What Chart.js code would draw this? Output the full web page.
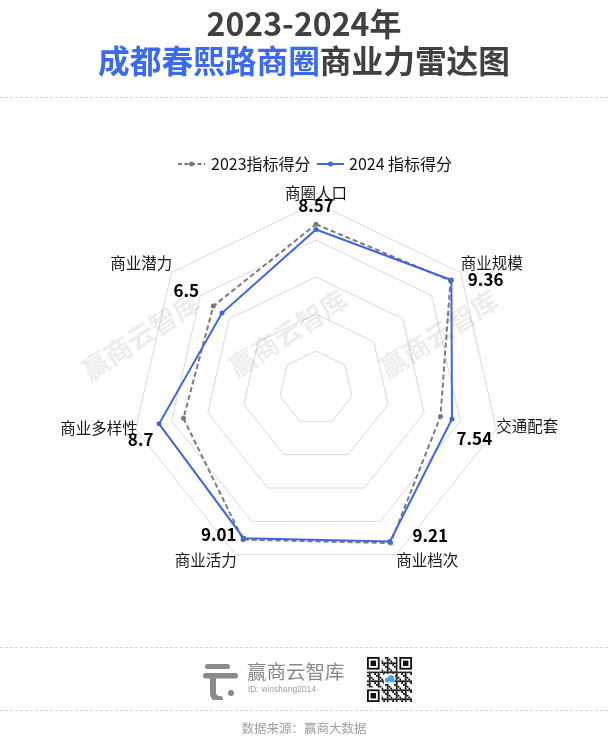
<!DOCTYPE html>
<html><head><meta charset="utf-8">
<script src="https://cdn.jsdelivr.net/npm/chart.js@4"></script>
<style>
html,body{margin:0;padding:0;background:#fff;}
body{width:608px;height:747px;position:relative;overflow:hidden;font-family:"Noto Sans CJK SC","Noto Sans",sans-serif;}
#c{position:absolute;left:0;top:0;}
.ttl{position:absolute;left:0;width:608px;text-align:center;font-weight:700;color:#404040;line-height:1;white-space:nowrap;}
.ttl .b{color:#3a6bee;}
.sep{position:absolute;left:0;width:608px;height:0;border-top:1px dashed #d4d4d4;}
.lg{position:absolute;font-size:16px;color:#111;line-height:1;white-space:nowrap;}
.wm{position:absolute;font-size:27px;font-weight:700;color:rgba(0,0,0,0.075);white-space:nowrap;transform:translate(-50%,-50%) rotate(-33deg);line-height:1;}
.src{position:absolute;left:0;width:608px;text-align:center;font-size:12.5px;color:#a0a0a0;line-height:1;}
</style></head>
<body>
<canvas id="c" width="608" height="747"></canvas>
<div class="ttl" style="top:6px;font-size:32px;">2023-2024年</div>
<div class="ttl" style="top:44px;font-size:31.7px;"><span class="b">成都春熙路商圈</span>商业力雷达图</div>
<div class="sep" style="top:97px;"></div>

<svg style="position:absolute;left:178px;top:159px;" width="27" height="10">
 <line x1="0" y1="5" x2="27" y2="5" stroke="#7a7a7a" stroke-width="2" stroke-dasharray="4,2.5"/>
 <circle cx="13.5" cy="5" r="2.5" fill="#7a7a7a"/>
</svg>
<div class="lg" id="lg1" style="left:211px;top:155px;"></div>
<svg style="position:absolute;left:317px;top:159px;" width="27" height="10">
 <line x1="0" y1="5" x2="27" y2="5" stroke="#3f66dd" stroke-width="2"/>
 <circle cx="13.5" cy="5" r="2.5" fill="#3f66dd"/>
</svg>
<div class="lg" id="lg2" style="left:349px;top:155px;"></div>

<div class="wm" style="left:140px;top:335px;">赢商云智库</div>
<div class="wm" style="left:287px;top:332px;">赢商云智库</div>
<div class="wm" style="left:438px;top:333px;">赢商云智库</div>

<div class="sep" style="top:647px;"></div>
<svg style="position:absolute;left:200px;top:660px;" width="40" height="40">
 <rect x="5" y="4" width="25" height="5" rx="2.5" fill="#8a8a8a"/>
 <rect x="3" y="13" width="35" height="5.5" rx="2.7" fill="#8a8a8a"/>
 <path d="M13,17 L13,32 Q13,39 20,39" stroke="#8a8a8a" stroke-width="6" fill="none" stroke-linecap="round"/>
 <circle cx="31" cy="33" r="3" fill="#8a8a8a"/>
</svg>
<div style="position:absolute;left:247px;top:661px;font-size:19.5px;color:#8a8a8a;line-height:1;white-space:nowrap;">赢商云智库</div>
<div style="position:absolute;left:248px;top:685px;font-size:8.5px;color:#a0a0a0;line-height:1;white-space:nowrap;font-family:'Liberation Sans',sans-serif;">ID: winshang2014</div>
<canvas id="qr" width="45" height="45" style="position:absolute;left:367px;top:657px;"></canvas>
<div class="sep" style="top:710px;"></div>
<div class="src" style="top:722px;">数据来源：赢商大数据</div>

<script>
// ---- data ----
const categories = ['商圈人口', '商业规模', '交通配套', '商业档次', '商业活力', '商业多样性', '商业潜力'];
const scores2023 = [8.85, 9.3, 6.9, 9.3, 9.1, 7.35, 7.1];
const scores2024 = [8.57, 9.36, 7.54, 9.21, 9.01, 8.7, 6.5];
const seriesLabels = ['2023指标得分', '2024 指标得分'];
const scaleMin = 0, scaleMax = 10, scaleStep = 2;

document.getElementById('lg1').textContent = seriesLabels[0];
document.getElementById('lg2').textContent = seriesLabels[1];

// label placement (offsets relative to the outer ring vertex)
const catPos = [
  {a:'center', dx:0, dy:-10},
  {a:'left', dx:0, dy:-10},
  {a:'left', dx:0, dy:-3},
  {a:'left', dx:0, dy:5},
  {a:'right', dx:1, dy:5},
  {a:'right', dx:2, dy:-1},
  {a:'right', dx:1, dy:-10}
];
const valPos = [
  {dx:0, dy:3}, {dx:25, dy:7}, {dx:-22, dy:9}, {dx:34, dy:-19},
  {dx:-17, dy:-20}, {dx:5, dy:10}, {dx:15, dy:18}
];

const labelPlugin = {
  id: 'radarLabels',
  afterDatasetsDraw(chart) {
    const s = chart.scales.r, ctx = chart.ctx;
    const outer = s.getDistanceFromCenterForValue(s.max);
    ctx.save();
    ctx.textBaseline = 'middle';
    categories.forEach((c, i) => {
      const p = s.getPointPosition(i, outer);
      const L = catPos[i];
      ctx.font = '15.5px "Noto Sans CJK SC"';
      ctx.fillStyle = '#1a1a1a';
      ctx.textAlign = L.a;
      ctx.fillText(c, p.x + L.dx, p.y + L.dy);
      const V = valPos[i];
      ctx.font = 'bold 17px "Noto Sans CJK SC"';
      ctx.fillStyle = '#000';
      ctx.textAlign = 'center';
      ctx.fillText(String(scores2024[i]), p.x + V.dx, p.y + V.dy);
    });
    ctx.restore();
  }
};

new Chart(document.getElementById('c'), {
  type: 'radar',
  data: {
    labels: categories,
    datasets: [
      {label: seriesLabels[0], data: scores2023, order: 1, borderColor: '#7a7a7a', borderWidth: 2, borderDash: [5, 3],
       pointRadius: 2.5, pointBackgroundColor: '#7a7a7a', pointBorderColor: '#7a7a7a', pointBorderWidth: 0, fill: false, backgroundColor: 'rgba(0,0,0,0)'},
      {label: seriesLabels[1], data: scores2024, order: 0, borderColor: '#3f66dd', borderWidth: 2,
       pointRadius: 2.5, pointBackgroundColor: '#3f66dd', pointBorderColor: '#3f66dd', pointBorderWidth: 0, fill: false, backgroundColor: 'rgba(0,0,0,0)'}
    ]
  },
  options: {
    responsive: false,
    animation: false,
    layout: {padding: {left: 131, right: 106, top: 202.5, bottom: 173.5}},
    plugins: {legend: {display: false}, tooltip: {enabled: false}},
    elements: {line: {tension: 0}},
    scales: {
      r: {
        min: scaleMin, max: scaleMax,
        ticks: {display: false, stepSize: scaleStep},
        grid: {color: '#d9d9d9', lineWidth: 1},
        angleLines: {display: false},
        pointLabels: {display: false}
      }
    }
  },
  plugins: [labelPlugin]
});

// decorative QR-like code
(function(){
  const q = document.getElementById('qr').getContext('2d');
  const n = 25, m = 45 / n;
  q.fillStyle = '#fff'; q.fillRect(0,0,45,45);
  q.fillStyle = '#111';
  for (let i = 0; i < n; i++) for (let j = 0; j < n; j++) {
    if (((i * 7 + j * 11 + i * j * 3) % 5) < 2) q.fillRect(j * m, i * m, m, m);
  }
  function finder(x, y) {
    q.fillStyle = '#fff'; q.fillRect(x * m - m, y * m - m, 9 * m, 9 * m);
    q.fillStyle = '#111'; q.fillRect(x * m, y * m, 7 * m, 7 * m);
    q.fillStyle = '#fff'; q.fillRect((x + 1) * m, (y + 1) * m, 5 * m, 5 * m);
    q.fillStyle = '#111'; q.fillRect((x + 2) * m, (y + 2) * m, 3 * m, 3 * m);
  }
  finder(0, 0); finder(18, 0); finder(0, 18);
  q.fillStyle = '#fff'; q.fillRect(17, 17, 11, 10);
  q.fillStyle = '#4aa3e0';
  q.beginPath(); q.arc(20.5, 23, 2.5, 0, Math.PI * 2); q.arc(24, 21.5, 3.2, 0, Math.PI * 2); q.arc(26, 23.5, 2, 0, Math.PI * 2); q.fill();
})();
</script>
</body></html>
